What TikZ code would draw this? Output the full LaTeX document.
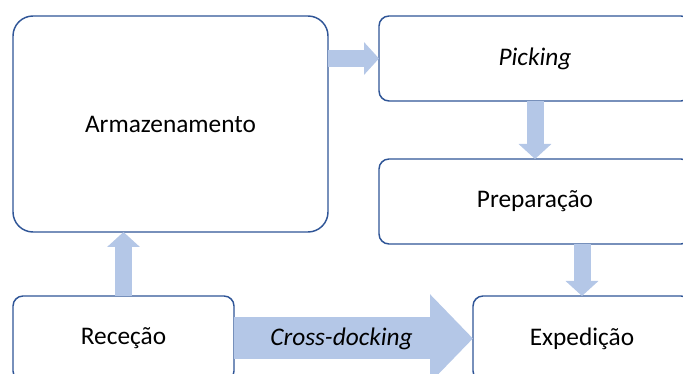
\documentclass[tikz,border=0pt]{standalone}
\usepackage{fontspec}
\setmainfont{Carlito}
\usetikzlibrary{arrows.meta,calc}
\definecolor{boxline}{HTML}{2F5597}
\definecolor{flowfill}{HTML}{B4C7E7}
\begin{document}
\begin{tikzpicture}[x=0.75pt,y=-0.75pt,
  stage/.style={draw=boxline, line width=1.1pt, fill=white, rounded corners=7.5pt,
    font=\fontsize{19}{22}\selectfont, inner sep=0pt, outer sep=0pt,
    minimum height=63.75pt},
  flow/.style={color=flowfill, line width=12.75pt,
    -{Triangle[width=24pt,length=11.25pt]}},
  bigflow/.style={color=flowfill, line width=31.5pt,
    -{Triangle[width=64.5pt,length=32.25pt]}},
  ]
\useasboundingbox (0,0) rectangle (683,374);
\clip (0,0) rectangle (683,374);

% process stages
\node[stage, rounded corners=15pt, minimum width=236.25pt, minimum height=162pt]
  (arm) at (170.5,124) {Armazenamento};
\node[stage, minimum width=234pt] (pick) at (535,58.5) {\itshape Picking};
\node[stage, minimum width=234pt] (prep) at (535,201.5) {Preparação};
\node[stage, minimum width=165.75pt] (rec) at (123.5,338.5) {Receção};
\node[stage, minimum width=163.5pt] (exp) at (582,338.5) {Expedição};

% material flows
\draw[flow] (arm.east |- pick.west) -- (pick.west);
\draw[flow] (pick.south) -- (prep.north);
\draw[flow] (exp.north |- prep.south) -- (exp.north);
\draw[flow] (rec.north) -- (rec.north |- arm.south);
\draw[bigflow] (rec.east) -- (exp.west)
  node[pos=0.45, text=black, font=\fontsize{19}{22}\selectfont\itshape] {Cross-docking};
\end{tikzpicture}
\end{document}
